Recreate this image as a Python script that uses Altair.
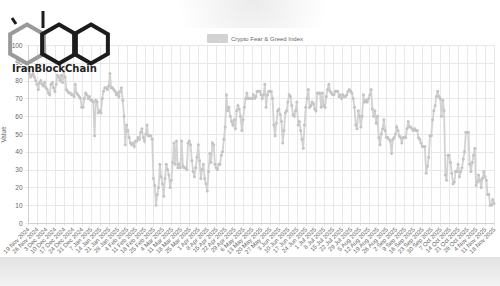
import altair as alt
import pandas as pd

# Daily Crypto Fear & Greed Index, 19 Nov 2024 .. 18 Nov 2025 (365 days)
start_date = "2024-11-19"
series_name = "Crypto Fear & Greed Index"

values_nov_dec = [87, 84, 82, 83, 84, 82, 80, 78, 75, 79,
                  80, 78, 77, 79, 76, 75, 73, 72, 78, 79,
                  76, 74, 78, 83, 82, 80, 83, 79, 85, 82,
                  75, 74, 73, 73, 72, 72, 71, 78, 73, 72,
                  71, 70, 65, 65]
values_jan = [70, 73, 72, 70, 71, 69, 69, 68, 49, 69, 68, 62, 63, 62, 70, 74, 76,
              76, 75, 77, 84, 76, 76, 75, 74, 72, 73, 71, 74, 76, 69]
values_feb_mar = [60, 44, 55, 52, 48, 45, 44, 45, 43, 46, 46, 48, 47, 51, 53, 48,
                  46, 50, 55, 49, 49, 49, 47, 25, 21, 10, 16, 20, 33, 26, 22, 15,
                  25, 33, 30, 27, 20, 24, 34, 45, 33, 46, 31, 33]
values_apr_may = [31, 46, 32, 31, 31, 30, 45, 46, 44, 35, 29, 26, 31, 37, 44, 35,
                  25, 30, 33, 25, 22, 18, 29, 39, 34, 45, 44, 33, 31, 30, 33, 33,
                  38, 40, 47, 54, 72, 63, 65, 60, 57, 55, 58, 53, 63, 66, 64, 60,
                  52, 58, 65, 70, 73, 70, 70, 70, 70, 72, 70]
values_jun_jul = [71, 74, 74, 74, 72, 70, 72, 78, 65, 72, 74, 74, 74, 70, 55, 49,
                  56, 63, 64, 61, 57, 45, 52, 62, 63, 68, 72, 71, 66, 61, 60, 63,
                  68, 55, 57, 52, 47, 42, 55, 65, 70, 75, 65, 66, 68, 67, 64, 63,
                  73, 73, 73, 65, 73, 66, 65, 71, 75, 78]
values_aug_sep = [74, 73, 72, 72, 74, 74, 74, 71, 72, 70, 72, 71, 71, 72, 74, 75,
                  74, 73, 70, 65, 55, 53, 63, 60, 54, 60, 72, 68, 69, 68, 70, 72,
                  75, 64, 60, 63, 56, 60, 48, 44, 50, 53, 58, 52, 48, 48, 47, 46,
                  39, 47, 48, 50, 54, 52, 49, 48, 45, 48, 48]
values_oct_nov = [48, 53, 57, 54, 54, 53, 52, 53, 52, 52, 48, 47, 45, 43, 43, 43,
                  28, 32, 37, 49, 49, 58, 63, 66, 71, 74, 71, 70, 60, 69, 63, 27,
                  24, 38, 38, 34, 28, 22, 23, 29, 29, 33, 26, 29, 31, 36, 40, 51,
                  51, 51, 33, 29, 34, 38, 42, 21, 23, 27, 24, 20, 25, 29, 26, 24,
                  16, 16, 10, 10, 13, 11]

index_values = (values_nov_dec + values_jan + values_feb_mar + values_apr_may
                + values_jun_jul + values_aug_sep + values_oct_nov)
dates = pd.date_range(start_date, periods=len(index_values), freq="D").strftime("%Y-%m-%d").tolist()

tick_dates = pd.date_range(start_date, periods=53, freq="7D")
y_ticks = [0, 10, 20, 30, 40, 50, 60, 70, 80, 90, 100]

df = pd.DataFrame({"date": dates, "value": index_values, "series": series_name})

FONT = "Liberation Sans"
LINE = "#d2d2d2"
GRID = "#e8e8e8"
TXT = "#666666"

x_enc = alt.X(
    "date:T",
    scale=alt.Scale(
        type="utc",
        domain=[alt.DateTime(year=2024, month=11, date=19, utc=True),
                alt.DateTime(year=2025, month=11, date=18, utc=True)],
        nice=False,
    ),
    axis=alt.Axis(
        values=[alt.DateTime(year=d.year, month=d.month, date=d.day, utc=True) for d in tick_dates],
        labelExpr="utcFormat(datum.value, '%-d %b %Y')",
        labelAngle=-45,
        labelAlign="right",
        labelBaseline="middle",
        labelFontSize=6,
        labelColor=TXT,
        labelFont=FONT,
        labelPadding=2,
        tickSize=3,
        tickColor=GRID,
        domainColor="#d0d0d0",
        gridColor=GRID,
        labelOverlap=False,
        title=None,
    ),
)
y_enc = alt.Y(
    "value:Q",
    scale=alt.Scale(domain=[0, 100], nice=False),
    axis=alt.Axis(
        values=y_ticks,
        labelFontSize=6.5,
        labelColor=TXT,
        labelFont=FONT,
        labelPadding=3,
        tickSize=3,
        tickColor=GRID,
        domainColor="#d0d0d0",
        gridColor=GRID,
        title="Value",
        titleFont=FONT,
        titleFontSize=6.5,
        titleFontWeight="normal",
        titleColor=TXT,
        titlePadding=5,
    ),
)
color_enc = alt.Color(
    "series:N",
    scale=alt.Scale(range=[LINE]),
    legend=alt.Legend(
        title=None,
        orient="none",
        legendX=179,
        legendY=-17,
        direction="horizontal",
        symbolType="M-1,-0.4H1V0.4H-1Z",
        symbolSize=400,
        symbolFillColor=LINE,
        symbolStrokeColor=LINE,
        symbolStrokeWidth=1,
        labelFontSize=6,
        labelFont=FONT,
        labelColor=TXT,
        labelOffset=3,
        padding=0,
    ),
)

# page decoration: soft grey band at the bottom and a faint blur at the top
deco_df = pd.DataFrame({"k": [0]})
band = alt.Chart(deco_df).mark_rect(
    clip=False,
    fill=alt.Gradient(
        gradient="linear", x1=0, y1=0, x2=0, y2=1,
        stops=[alt.GradientStop(offset=0, color="#e3e3e3"),
               alt.GradientStop(offset=1, color="#f3f3f3")],
    ),
).encode(x=alt.value(-28), x2=alt.value(472), y=alt.value(212), y2=alt.value(241))
blob = alt.Chart(deco_df).mark_rect(
    clip=False,
    fill=alt.Gradient(
        gradient="radial", x1=0.5, y1=0.4, x2=0.5, y2=0.4, r1=0, r2=0.5,
        stops=[alt.GradientStop(offset=0, color="#ebebeb"),
               alt.GradientStop(offset=1, color="#ffffff")],
    ),
).encode(x=alt.value(150), x2=alt.value(300), y=alt.value(-45), y2=alt.value(-17))

base = alt.Chart(df)
line = base.mark_line(strokeWidth=1.8).encode(x=x_enc, y=y_enc, color=color_enc)
points = base.mark_circle(size=9, opacity=1, color="#c4c4c4").encode(x=x_enc, y=y_enc)

# IranBlockChain logo (decoration)
hexpath = "M0,-1L0.866,-0.5L0.866,0.5L0,1L-0.866,0.5L-0.866,-0.5Z"
lb = alt.Chart(deco_df)
hex1 = lb.mark_point(shape=hexpath, size=1520, filled=False, stroke="#9a9a9a", strokeWidth=4, opacity=1).encode(
    x=alt.value(-1), y=alt.value(-1))
hex2 = lb.mark_point(shape=hexpath, size=1520, filled=False, stroke="#1c1c1c", strokeWidth=4, opacity=1).encode(
    x=alt.value(31), y=alt.value(-1))
hex3 = lb.mark_point(shape=hexpath, size=1520, filled=False, stroke="#1c1c1c", strokeWidth=4, opacity=1).encode(
    x=alt.value(63), y=alt.value(-1))
stem = lb.mark_rule(stroke="#1c1c1c", strokeWidth=3).encode(
    x=alt.value(15), y=alt.value(-34), y2=alt.value(-17))
dot = lb.mark_rule(stroke="#1c1c1c", strokeWidth=3).encode(
    x=alt.value(-16), x2=alt.value(-12), y=alt.value(-27), y2=alt.value(-21))
logo_text = lb.mark_text(
    text="IranBlockChain", font="DejaVu Sans", fontWeight="bold", fontSize=10,
    align="left", baseline="alphabetic", color="#222222",
).encode(x=alt.value(-16), y=alt.value(27))

chart = alt.layer(band, blob, line, points, hex1, hex2, hex3, stem, dot, logo_text).properties(
    width=466,
    height=178,
    autosize=alt.AutoSizeParams(type="none"),
    padding={"left": 28, "top": 45, "right": 6, "bottom": 63},
    background="white",
).configure_view(stroke=None).configure_axis(grid=True, labelColor=TXT)

chart.save("out.html", embed_options={"renderer": "svg", "actions": False})
